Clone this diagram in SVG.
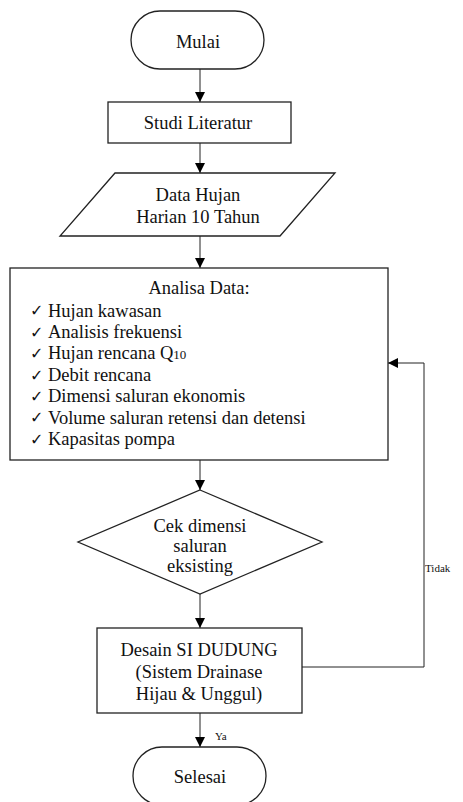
<svg xmlns="http://www.w3.org/2000/svg" width="463" height="802" viewBox="0 0 463 802">
<style>
.shape{fill:#fff;stroke:#222;stroke-width:1.3}
.t{font-family:"Liberation Serif","Times New Roman",serif;font-size:18.5px;fill:#111}
.c{text-anchor:middle}
.ck{font-family:"DejaVu Sans",sans-serif;font-size:16px;fill:#111}
.s{font-family:"Liberation Serif","Times New Roman",serif;font-size:11px;fill:#111}
.ln{fill:none;stroke:#222;stroke-width:1}
</style>
<defs>
<marker id="ah" viewBox="0 0 10 10" refX="10" refY="5" markerWidth="10" markerHeight="10" markerUnits="userSpaceOnUse" orient="auto">
<path d="M0,0 L10,5 L0,10 z" fill="#000"/>
</marker>
</defs>
<rect width="463" height="802" fill="#fff"/>
<g id="connectors">
<line class="ln" x1="200" y1="69" x2="200" y2="102" marker-end="url(#ah)"/>
<line class="ln" x1="200" y1="143" x2="200" y2="173" marker-end="url(#ah)"/>
<line class="ln" x1="200" y1="236" x2="200" y2="268" marker-end="url(#ah)"/>
<line class="ln" x1="200" y1="460" x2="200" y2="490" marker-end="url(#ah)"/>
<line class="ln" x1="200" y1="594" x2="200" y2="628" marker-end="url(#ah)"/>
<line class="ln" x1="200" y1="713" x2="200" y2="747" marker-end="url(#ah)"/>
<polyline class="ln" points="302,667 424,667 424,363 388,363" marker-end="url(#ah)"/>
<text class="s" x="215" y="740">Ya</text>
<text class="s" x="425" y="572">Tidak</text>
</g>
<g id="mulai">
<rect class="shape" x="131" y="11" width="133" height="58" rx="29"/>
<text class="t c" x="198" y="48">Mulai</text>
</g>
<g id="studi">
<rect class="shape" x="108" y="102" width="183" height="41"/>
<text class="t c" x="198" y="129">Studi Literatur</text>
</g>
<g id="data">
<polygon class="shape" points="115,173 335,173 280,236 60,236"/>
<text class="t c" x="198" y="201">Data Hujan</text>
<text class="t c" x="198" y="223">Harian 10 Tahun</text>
</g>
<g id="analisa">
<rect class="shape" x="10" y="268" width="378" height="192"/>
<text class="t c" x="199" y="294">Analisa Data:</text>
<text class="ck" x="30" y="316">✓</text>
<text class="ck" x="30" y="338">✓</text>
<text class="ck" x="30" y="359">✓</text>
<text class="ck" x="30" y="381">✓</text>
<text class="ck" x="30" y="402">✓</text>
<text class="ck" x="30" y="423">✓</text>
<text class="ck" x="30" y="445">✓</text>
<text class="t" x="48" y="317">Hujan kawasan</text>
<text class="t" x="48" y="338">Analisis frekuensi</text>
<text class="t" x="48" y="359">Hujan rencana Q<tspan font-size="13">10</tspan></text>
<text class="t" x="48" y="381">Debit rencana</text>
<text class="t" x="48" y="402">Dimensi saluran ekonomis</text>
<text class="t" x="48" y="424">Volume saluran retensi dan detensi</text>
<text class="t" x="48" y="445">Kapasitas pompa</text>
</g>
<g id="cek">
<polygon class="shape" points="200,490 322,542 200,594 78,542"/>
<text class="t c" x="200" y="532">Cek dimensi</text>
<text class="t c" x="200" y="552">saluran</text>
<text class="t c" x="200" y="572">eksisting</text>
</g>
<g id="desain">
<rect class="shape" x="97" y="628" width="205" height="85"/>
<text class="t c" x="199" y="656">Desain SI DUDUNG</text>
<text class="t c" x="199" y="678">(Sistem Drainase</text>
<text class="t c" x="199" y="700">Hijau &amp; Unggul)</text>
</g>
<g id="selesai">
<rect class="shape" x="133" y="747" width="133" height="58" rx="29"/>
<text class="t c" x="200" y="783">Selesai</text>
</g>
</svg>
